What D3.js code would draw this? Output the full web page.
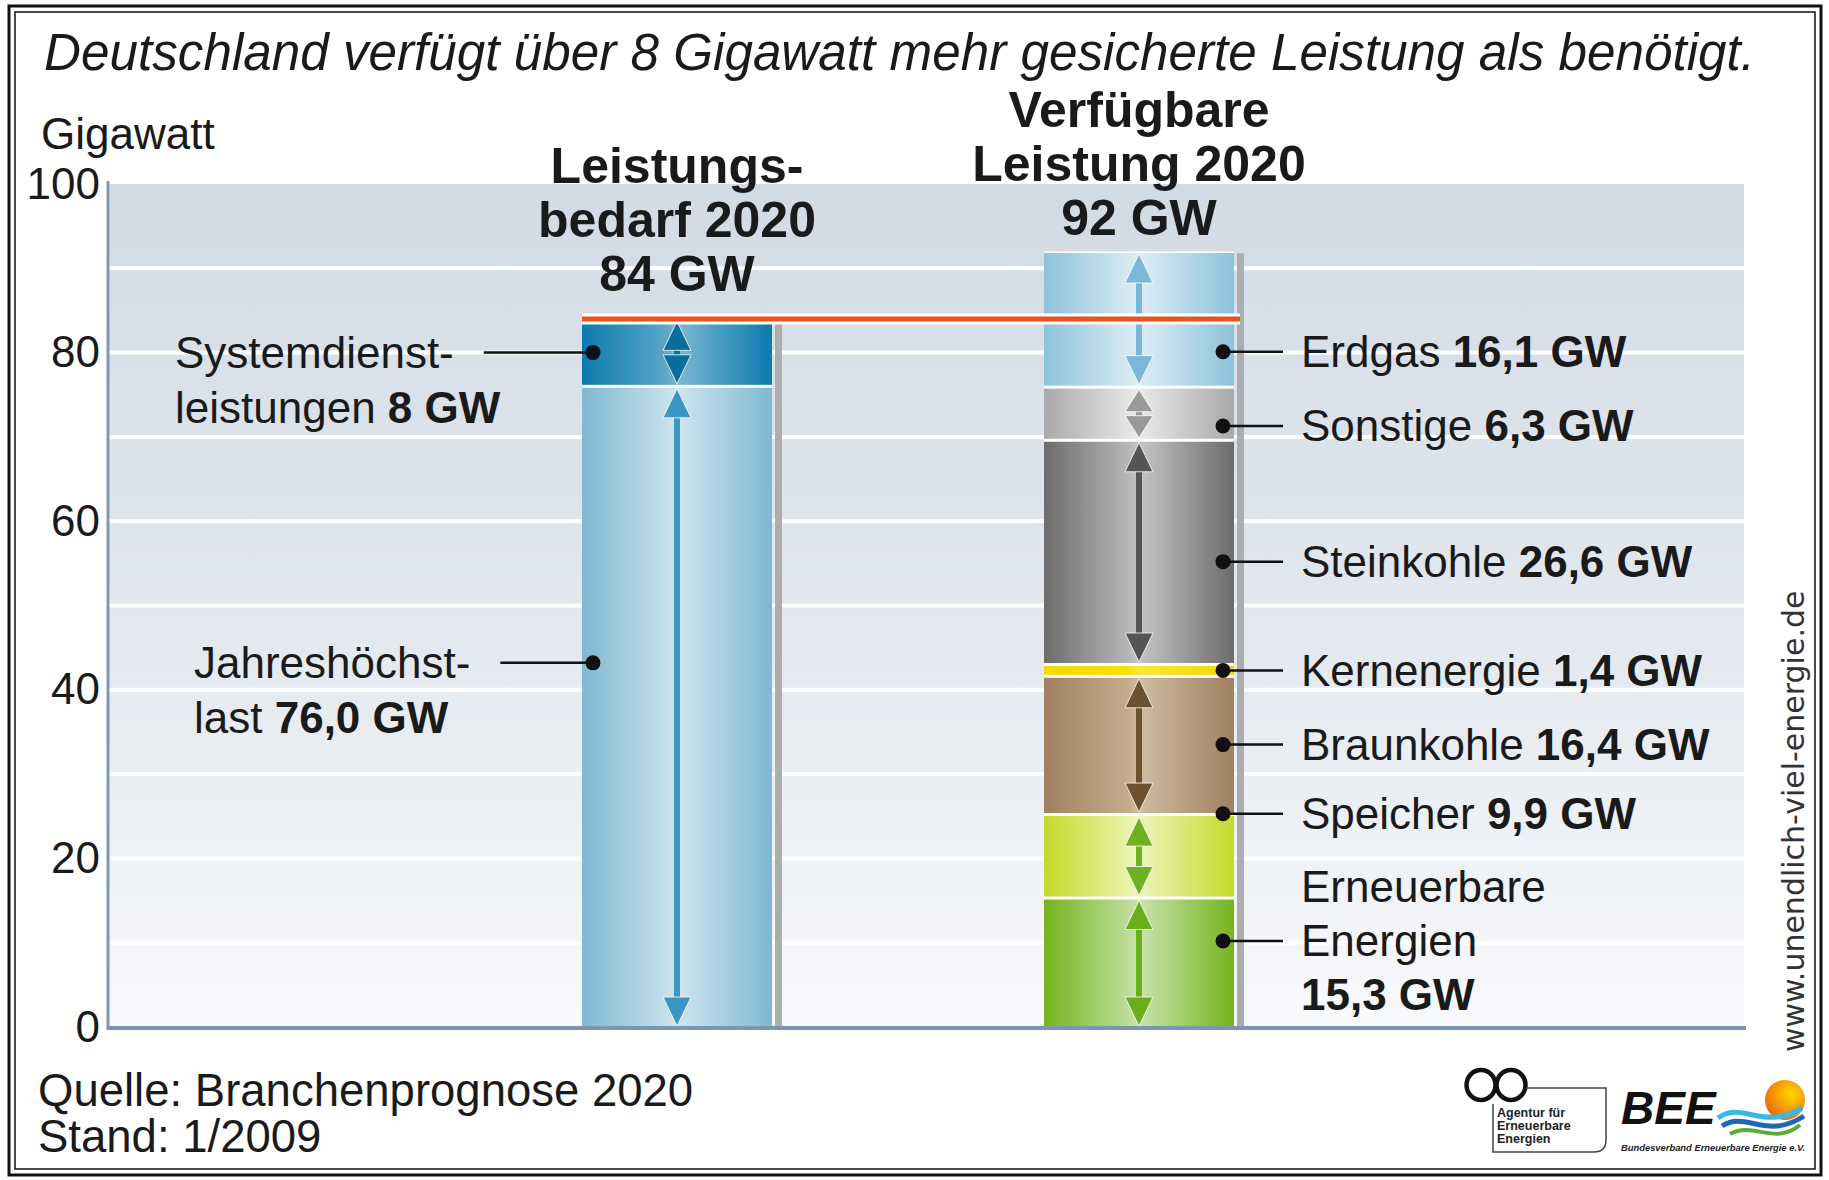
<!DOCTYPE html>
<html>
<head>
<meta charset="utf-8">
<script src="https://cdn.jsdelivr.net/npm/d3@7"></script>
<style>
  body { margin: 0; background: #fff; }
  svg { display: block; font-family: "Liberation Sans", Arial, Helvetica, sans-serif; }
</style>
</head>
<body>
<svg id="chart" width="1829" height="1180"></svg>
<script>
// ---- values (Gigawatt) ----
const titleText = "Deutschland verfügt über 8 Gigawatt mehr gesicherte Leistung als benötigt.";
const axisTitle = "Gigawatt";
const yTicks = [0, 20, 40, 60, 80, 100];
const gridValues = [10, 20, 30, 40, 50, 60, 70, 80, 90];

const barNames = ["Leistungsbedarf 2020", "Verfügbare Leistung 2020"];
const barHeads = [["Leistungs-", "bedarf 2020"], ["Verfügbare", "Leistung 2020"]];

const demandNames = ["Jahreshöchstlast", "Systemdienstleistungen"];
const demandValues = [76.0, 8];
const demandValueText = ["76,0 GW", "8 GW"];
const demandLabelLines = [["Jahreshöchst-", "last "], ["Systemdienst-", "leistungen "]];
const demandLabelAt = [43.2, 80];   // GW height of the callout dot

const supplyNames = ["Erneuerbare Energien", "Speicher", "Braunkohle", "Kernenergie", "Steinkohle", "Sonstige", "Erdgas"];
const supplyValues = [15.3, 9.9, 16.4, 1.4, 26.6, 6.3, 16.1];
const supplyLabelAt = [10.2, 25.3, 33.5, 42.3, 55.2, 71.3, 80.1];

const sourceLines = ["Quelle: Branchenprognose 2020", "Stand: 1/2009"];
const urlText = "www.unendlich-viel-energie.de";

// ---- styles ----
const segStyle = {
  "Jahreshöchstlast":       {edge: "#80b8d3", light: "#c4dfeb", arrow: "#3b96c3"},
  "Systemdienstleistungen": {edge: "#0b7aad", light: "#5ba6c9", arrow: "#0a6d9c"},
  "Erneuerbare Energien":   {edge: "#74b41e", light: "#bddc99", arrow: "#6aae1c"},
  "Speicher":               {edge: "#c4da28", light: "#e9f3aa", arrow: "#70b020"},
  "Braunkohle":             {edge: "#9f8160", light: "#c3ab8b", arrow: "#6c5330"},
  "Kernenergie":            {edge: "#f1d800", light: "#f6e200", arrow: null},
  "Steinkohle":             {edge: "#6c6c6c", light: "#b6b6b6", arrow: "#555555"},
  "Sonstige":               {edge: "#a9a9a9", light: "#e3e3e3", arrow: "#999999"},
  "Erdgas":                 {edge: "#8dc2dc", light: "#d5e9f2", arrow: "#7bb8d6"}
};
const textColor = "#1a1a1a";
const labelSize = 44;

let deLocale = d3.formatLocale({decimal: ",", thousands: ".", grouping: [3], currency: ["", " €"]});
let fmt1 = deLocale.format(".1f");

function stackUp(names, values) {
  let base = 0;
  return names.map((n, i) => {
    let d = {name: n, value: values[i], y0: base, y1: base + values[i]};
    base += values[i];
    return d;
  });
}

let demand = stackUp(demandNames, demandValues);
let supply = stackUp(supplyNames, supplyValues);

let svg = d3.select("#chart");
let defs = svg.append("defs");

let plotL = 108, plotR = 1744;
let y = d3.scaleLinear().domain([0, 100]).range([1027, 184]);
let x = d3.scalePoint().domain(barNames).range([677, 1139]);
let barW = 190;

svg.append("rect").attr("width", 1829).attr("height", 1180).attr("fill", "#fff");

// frame
svg.append("rect").attr("x", 9).attr("y", 6).attr("width", 1812).attr("height", 1169)
   .attr("fill", "none").attr("stroke", "#111").attr("stroke-width", 3);
svg.append("rect").attr("x", 15).attr("y", 12).attr("width", 1800).attr("height", 1157)
   .attr("fill", "none").attr("stroke", "#111").attr("stroke-width", 1.5);

// title
svg.append("text").attr("x", 44).attr("y", 70)
   .attr("font-size", 51).attr("font-style", "italic").attr("fill", textColor)
   .attr("textLength", 1711).attr("lengthAdjust", "spacingAndGlyphs")
   .text(titleText);

svg.append("text").attr("x", 41).attr("y", 149)
   .attr("font-size", labelSize).attr("fill", textColor).text(axisTitle);

// plot background
let bg = defs.append("linearGradient").attr("id", "bg").attr("x1", 0).attr("y1", 0).attr("x2", 0).attr("y2", 1);
bg.append("stop").attr("offset", "0%").attr("stop-color", "#d2dae4");
bg.append("stop").attr("offset", "55%").attr("stop-color", "#e4e9ef");
bg.append("stop").attr("offset", "100%").attr("stop-color", "#f8f9fb");
svg.append("rect").attr("x", plotL).attr("y", y(100)).attr("width", plotR - plotL)
   .attr("height", y(0) - y(100)).attr("fill", "url(#bg)");

svg.append("g").selectAll("line").data(gridValues).join("line")
   .attr("x1", plotL).attr("x2", plotR)
   .attr("y1", d => y(d)).attr("y2", d => y(d))
   .attr("stroke", "#fff").attr("stroke-width", 4);

// gradients for the segments (cylinder look)
Object.keys(segStyle).forEach((name, i) => {
  let s = segStyle[name];
  let g = defs.append("linearGradient").attr("id", "seg" + i).attr("x1", "0%").attr("x2", "100%");
  s.id = "seg" + i;
  g.append("stop").attr("offset", "0%").attr("stop-color", s.edge);
  g.append("stop").attr("offset", "44%").attr("stop-color", s.light);
  g.append("stop").attr("offset", "50%").attr("stop-color", d3.interpolateRgb(s.light, "#fff")(0.2));
  g.append("stop").attr("offset", "100%").attr("stop-color", s.edge);
});

function drawArrow(g, cx, yTop, yBot, color) {
  let len = yBot - yTop;
  let h = Math.min(30, len / 2 - 2);
  let hw = 14;
  if (len - 2 * h > 0) {
    g.append("rect").attr("x", cx - 3).attr("y", yTop + h - 1).attr("width", 6)
     .attr("height", len - 2 * h + 2).attr("fill", color);
  }
  g.append("path").attr("d", `M${cx},${yTop + 1}L${cx + hw},${yTop + h}L${cx - hw},${yTop + h}Z`)
   .attr("fill", color).attr("stroke", "#fff").attr("stroke-width", 0.8);
  g.append("path").attr("d", `M${cx},${yBot - 1}L${cx + hw},${yBot - h}L${cx - hw},${yBot - h}Z`)
   .attr("fill", color).attr("stroke", "#fff").attr("stroke-width", 0.8);
}

function drawBar(barName, segs) {
  let cx = x(barName);
  let x0 = cx - barW / 2;
  let top = d3.max(segs, d => d.y1);
  let g = svg.append("g");
  // shadow strip
  g.append("rect").attr("x", x0 + barW + 3).attr("y", y(top) + 2).attr("width", 7)
   .attr("height", y(0) - y(top) - 2).attr("fill", "#abadaf");
  g.append("rect").attr("x", x0).attr("y", y(top)).attr("width", barW)
   .attr("height", y(0) - y(top)).attr("fill", "#fff");
  g.selectAll("rect.seg").data(segs).join("rect").attr("class", "seg")
   .attr("x", x0).attr("width", barW)
   .attr("y", d => y(d.y1) + 1.5)
   .attr("height", d => Math.max(1, y(d.y0) - y(d.y1) - (d.y0 === 0 ? 1.5 : 3)))
   .attr("fill", d => "url(#" + segStyle[d.name].id + ")");
  segs.forEach(d => {
    let col = segStyle[d.name].arrow;
    if (col) drawArrow(g, cx, y(d.y1) + 1.5, y(d.y0) - (d.y0 === 0 ? 0 : 1.5), col);
  });
}

drawBar(barNames[0], demand);
drawBar(barNames[1], supply);

// demand line at 84 GW
let demandTotal = d3.sum(demandValues);
let supplyTotal = d3.sum(supplyValues);
let lineX1 = x(barNames[0]) - barW / 2, lineX2 = x(barNames[1]) + barW / 2 + 6;
svg.append("line").attr("x1", lineX1).attr("x2", lineX2)
   .attr("y1", y(demandTotal)).attr("y2", y(demandTotal))
   .attr("stroke", "#fff").attr("stroke-width", 11);
svg.append("line").attr("x1", lineX1).attr("x2", lineX2)
   .attr("y1", y(demandTotal)).attr("y2", y(demandTotal))
   .attr("stroke", "#e8521b").attr("stroke-width", 5);

// axes
let yAxis = d3.axisLeft(y).tickValues(yTicks).tickSize(0).tickPadding(8).tickFormat(d3.format("d"));
let ga = svg.append("g").attr("transform", `translate(${plotL},0)`).call(yAxis);
ga.select(".domain").remove();
ga.attr("font-size", labelSize).attr("font-family", null);
ga.selectAll("text").attr("fill", textColor);

svg.append("line").attr("x1", plotL).attr("x2", plotL).attr("y1", y(100) - 3).attr("y2", y(0))
   .attr("stroke", "#7e9ab3").attr("stroke-width", 3);
svg.append("line").attr("x1", plotL - 1.5).attr("x2", plotR + 2).attr("y1", y(0) + 1).attr("y2", y(0) + 1)
   .attr("stroke", "#7b97b0").attr("stroke-width", 4);

// bar headers
let totals = [demandTotal, supplyTotal];
let headGap = [28, 16];
barNames.forEach((b, i) => {
  let lines = barHeads[i].concat([d3.format(".0f")(totals[i]) + " GW"]);
  let last = y(totals[i]) - headGap[i];
  svg.append("g").selectAll("text").data(lines).join("text")
     .attr("x", x(b)).attr("y", (d, j) => last - (lines.length - 1 - j) * 54)
     .attr("text-anchor", "middle").attr("font-size", 50).attr("font-weight", "bold")
     .attr("fill", textColor).text(d => d);
});

// callouts, left bar
let leftTextX = [194, 175];
demand.forEach((d, i) => {
  let dotX = x(barNames[0]) - barW / 2 + 11;
  let dotY = y(demandLabelAt[i]);
  let t = svg.append("text").attr("x", leftTextX[i]).attr("y", dotY).attr("dy", "0.35em")
     .attr("font-size", labelSize).attr("fill", textColor).text(demandLabelLines[i][0]);
  let t2 = svg.append("text").attr("x", leftTextX[i]).attr("y", dotY + 55).attr("dy", "0.35em")
     .attr("font-size", labelSize).attr("fill", textColor);
  t2.append("tspan").text(demandLabelLines[i][1]);
  t2.append("tspan").attr("font-weight", "bold").text(demandValueText[i]);
  let endX = leftTextX[i] + t.node().getComputedTextLength() + 30;
  svg.append("line").attr("x1", endX).attr("x2", dotX).attr("y1", dotY).attr("y2", dotY)
     .attr("stroke", "#111").attr("stroke-width", 2.5);
  svg.append("circle").attr("cx", dotX).attr("cy", dotY).attr("r", 7.5).attr("fill", "#111");
});

// callouts, right bar
supply.forEach((d, i) => {
  let dotX = x(barNames[1]) + barW / 2 - 11;
  let dotY = y(supplyLabelAt[i]);
  svg.append("line").attr("x1", dotX).attr("x2", 1283).attr("y1", dotY).attr("y2", dotY)
     .attr("stroke", "#111").attr("stroke-width", 2.5);
  svg.append("circle").attr("cx", dotX).attr("cy", dotY).attr("r", 7.5).attr("fill", "#111");
  let val = fmt1(d.value) + " GW";
  if (d.name === "Erneuerbare Energien") {
    let parts = d.name.split(" ");
    [parts[0], parts[1]].forEach((p, j) => {
      svg.append("text").attr("x", 1301).attr("y", dotY + (j - 1) * 54).attr("dy", "0.35em")
         .attr("font-size", labelSize).attr("fill", textColor).text(p);
    });
    svg.append("text").attr("x", 1301).attr("y", dotY + 54).attr("dy", "0.35em")
       .attr("font-size", labelSize).attr("font-weight", "bold").attr("fill", textColor).text(val);
  } else {
    let t = svg.append("text").attr("x", 1301).attr("y", dotY).attr("dy", "0.35em")
       .attr("font-size", labelSize).attr("fill", textColor);
    t.append("tspan").text(d.name + " ");
    t.append("tspan").attr("font-weight", "bold").text(val);
  }
});

// source
svg.append("g").selectAll("text").data(sourceLines).join("text")
   .attr("x", 38).attr("y", (d, i) => 1106 + i * 46)
   .attr("font-size", 45.5).attr("fill", textColor).text(d => d);

// vertical url
svg.append("text").attr("transform", "translate(1804,1052) rotate(-90)")
   .attr("font-family", "'DejaVu Sans', Verdana, sans-serif").attr("font-size", 30)
   .attr("fill", "#333").text(urlText);

// logos
let logo = svg.append("g");
logo.append("ellipse").attr("cx", 1481).attr("cy", 1085).attr("rx", 14.5).attr("ry", 15)
    .attr("fill", "none").attr("stroke", "#111").attr("stroke-width", 4.5);
logo.append("ellipse").attr("cx", 1511).attr("cy", 1085).attr("rx", 14.5).attr("ry", 15)
    .attr("fill", "none").attr("stroke", "#111").attr("stroke-width", 4.5);
logo.append("path").attr("d", "M1526,1088H1606V1140Q1606,1152 1594,1152H1493V1104")
    .attr("fill", "none").attr("stroke", "#444").attr("stroke-width", 1.5);
["Agentur für", "Erneuerbare", "Energien"].forEach((s, i) => {
  logo.append("text").attr("x", 1497).attr("y", 1117 + i * 13).attr("font-size", 12.5)
      .attr("font-weight", "bold").attr("fill", "#222").text(s);
});
logo.append("text").attr("x", 1621).attr("y", 1124).attr("font-size", 46)
    .attr("font-weight", "bold").attr("font-style", "italic").attr("fill", "#111").text("BEE");
let sun = defs.append("radialGradient").attr("id", "sun").attr("cx", "65%").attr("cy", "35%").attr("r", "70%");
sun.append("stop").attr("offset", "0%").attr("stop-color", "#ffd800");
sun.append("stop").attr("offset", "100%").attr("stop-color", "#ee6a10");
logo.append("circle").attr("cx", 1785).attr("cy", 1100).attr("r", 20).attr("fill", "url(#sun)");
logo.append("path").attr("d", "M1718,1118C1742,1100 1762,1132 1802,1108")
    .attr("fill", "none").attr("stroke", "#3ab7e4").attr("stroke-width", 5);
logo.append("path").attr("d", "M1722,1126C1746,1110 1766,1141 1804,1116")
    .attr("fill", "none").attr("stroke", "#1d67b8").attr("stroke-width", 5);
logo.append("path").attr("d", "M1730,1134C1754,1121 1774,1146 1800,1125")
    .attr("fill", "none").attr("stroke", "#58ad32").attr("stroke-width", 4);
logo.append("text").attr("x", 1621).attr("y", 1151).attr("font-size", 9.5)
    .attr("font-weight", "bold").attr("font-style", "italic").attr("fill", "#222")
    .attr("textLength", 184).attr("lengthAdjust", "spacingAndGlyphs")
    .text("Bundesverband Erneuerbare Energie e.V.");
</script>
</body>
</html>
